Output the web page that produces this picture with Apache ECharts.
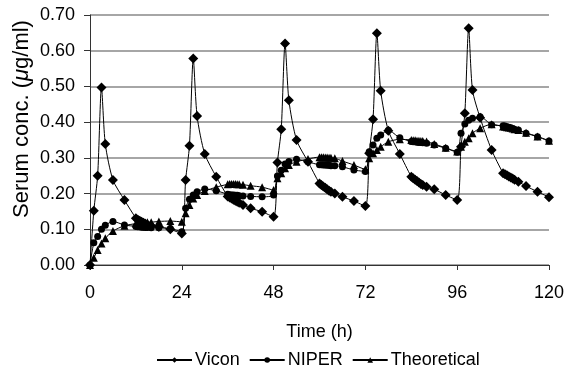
<!DOCTYPE html>
<html>
<head>
<meta charset="utf-8">
<script src="https://cdn.jsdelivr.net/npm/echarts@6/dist/echarts.min.js"></script>
<style>
  html, body { margin: 0; padding: 0; background: #fff; }
  #chart { width: 567px; height: 374px; }
</style>
</head>
<body>
<div id="chart"></div>
<script>
// sampling times (h), shared by all three series
const hours = [
  0, 1, 2, 3, 4, 6, 9, 12, 12.5, 13, 13.5, 14, 14.5, 15, 16, 18, 21,
  24, 25, 26, 27, 28, 30, 33, 36, 36.5, 37, 37.5, 38, 38.5, 39, 40, 42, 45,
  48, 49, 50, 51, 52, 54, 57, 60, 60.5, 61, 61.5, 62, 62.5, 63, 64, 66, 69,
  72, 73, 74, 75, 76, 78, 81, 84, 84.5, 85, 85.5, 86, 86.5, 87, 88, 90, 93,
  96, 97, 98, 99, 100, 102, 105, 108, 108.5, 109, 109.5, 110, 110.5, 111, 112, 114, 117,
  120
];

const vicon = [
  0, 0.152, 0.25, 0.497, 0.339, 0.238, 0.182, 0.131, 0.127, 0.124, 0.121, 0.118, 0.115, 0.113, 0.110, 0.107, 0.100,
  0.088, 0.238, 0.334, 0.578, 0.417, 0.311, 0.247, 0.192, 0.189, 0.186, 0.183, 0.180, 0.177, 0.174, 0.168, 0.159, 0.149,
  0.135, 0.287, 0.380, 0.620, 0.461, 0.350, 0.289, 0.228, 0.224, 0.220, 0.216, 0.212, 0.208, 0.205, 0.200, 0.191, 0.179,
  0.165, 0.313, 0.408, 0.649, 0.488, 0.376, 0.311, 0.247, 0.243, 0.239, 0.235, 0.231, 0.227, 0.224, 0.219, 0.212, 0.196,
  0.182, 0.331, 0.425, 0.663, 0.490, 0.412, 0.322, 0.257, 0.254, 0.251, 0.248, 0.245, 0.242, 0.239, 0.233, 0.221, 0.205,
  0.190
];

const niper = [
  0, 0.062, 0.080, 0.100, 0.111, 0.122, 0.112, 0.108, 0.107, 0.107, 0.106, 0.106, 0.105, 0.105, 0.104, 0.104, 0.102,
  0.093, 0.159, 0.184, 0.196, 0.205, 0.213, 0.208, 0.198, 0.197, 0.196, 0.196, 0.195, 0.195, 0.194, 0.193, 0.192, 0.191,
  0.196, 0.249, 0.265, 0.283, 0.290, 0.296, 0.289, 0.281, 0.281, 0.280, 0.280, 0.279, 0.279, 0.278, 0.278, 0.275, 0.266,
  0.262, 0.317, 0.336, 0.355, 0.364, 0.377, 0.356, 0.346, 0.345, 0.345, 0.344, 0.343, 0.343, 0.342, 0.341, 0.336, 0.327,
  0.316, 0.369, 0.395, 0.405, 0.411, 0.415, 0.393, 0.390, 0.389, 0.387, 0.386, 0.384, 0.382, 0.380, 0.378, 0.369, 0.359,
  0.347
];

const theoretical = [
  0, 0.020, 0.042, 0.060, 0.075, 0.095, 0.110, 0.116, 0.117, 0.118, 0.118, 0.119, 0.119, 0.120, 0.120, 0.122, 0.123,
  0.121, 0.145, 0.168, 0.186, 0.196, 0.207, 0.218, 0.226, 0.227, 0.227, 0.227, 0.227, 0.226, 0.226, 0.225, 0.222, 0.218,
  0.210, 0.243, 0.257, 0.271, 0.280, 0.289, 0.297, 0.302, 0.302, 0.302, 0.301, 0.301, 0.300, 0.300, 0.299, 0.291, 0.280,
  0.268, 0.299, 0.313, 0.322, 0.331, 0.345, 0.352, 0.350, 0.349, 0.349, 0.348, 0.348, 0.347, 0.347, 0.346, 0.339, 0.328,
  0.318, 0.331, 0.345, 0.355, 0.369, 0.383, 0.394, 0.388, 0.387, 0.386, 0.385, 0.384, 0.382, 0.380, 0.378, 0.370, 0.360,
  0.348
];

const seriesNames = ["Vicon", "NIPER", "Theoretical"];

const pairs = (ys) => hours.map((t, i) => [t, ys[i]]);

const chart = echarts.init(document.getElementById("chart"));

const font = "'Liberation Sans', Arial, sans-serif";
const lineStyle = { color: "#000", width: 1 };

chart.setOption({
  animation: false,
  textStyle: { fontFamily: font, color: "#000" },
  grid: { left: 90, right: 17, top: 15, bottom: 109 },
  legend: {
    bottom: 0,
    left: 151,
    itemWidth: 35,
    itemHeight: 7,
    itemGap: 9,
    textStyle: { fontFamily: font, fontSize: 18, color: "#000", padding: [0, 0, 0, -2] },
    data: seriesNames,
  },
  // y-axis title drawn as text so it can sit a bit above the plot centre, as in the source
  graphic: [
    {
      type: "text",
      x: 22,
      y: 119,
      rotation: Math.PI / 2,
      style: {
        text: "Serum conc. ({i|μ}g/ml)",
        font: "22px " + font,
        fill: "#000",
        align: "center",
        verticalAlign: "middle",
        rich: { i: { fontFamily: font, fontSize: 22, fontStyle: "italic", fill: "#000" } },
      },
    },
  ],
  xAxis: {
    type: "value",
    min: 0,
    max: 120,
    interval: 24,
    name: "Time (h)",
    nameLocation: "middle",
    nameGap: 58,
    nameTextStyle: { fontFamily: font, fontSize: 18, color: "#000" },
    axisLine: { lineStyle: { color: "#333", width: 1 } },
    axisTick: { show: true, inside: false, length: 5, lineStyle: { color: "#333" } },
    axisLabel: { color: "#000", fontSize: 18, fontFamily: font, margin: 19 },
    splitLine: { show: false },
  },
  yAxis: {
    type: "value",
    min: 0,
    max: 0.7,
    interval: 0.1,
    axisLine: { show: true, lineStyle: { color: "#333", width: 1 } },
    axisTick: { show: true, inside: false, length: 6, lineStyle: { color: "#333" } },
    axisLabel: {
      color: "#000",
      fontSize: 18,
      fontFamily: font,
      margin: 15,
      formatter: (v) => v.toFixed(2),
    },
    splitLine: { lineStyle: { color: "#888", width: 1.5 } },
  },
  series: [
    {
      name: "Vicon",
      type: "line",
      symbol: "diamond",
      symbolSize: 10,
      smooth: 0.25,
      itemStyle: { color: "#000" },
      lineStyle: lineStyle,
      data: pairs(vicon),
    },
    {
      name: "NIPER",
      type: "line",
      symbol: "circle",
      symbolSize: 7,
      smooth: 0.25,
      itemStyle: { color: "#000" },
      lineStyle: lineStyle,
      data: pairs(niper),
    },
    {
      name: "Theoretical",
      type: "line",
      symbol: "triangle",
      symbolSize: 8,
      smooth: 0.25,
      itemStyle: { color: "#000" },
      lineStyle: lineStyle,
      data: pairs(theoretical),
    },
  ],
});
</script>
</body>
</html>
